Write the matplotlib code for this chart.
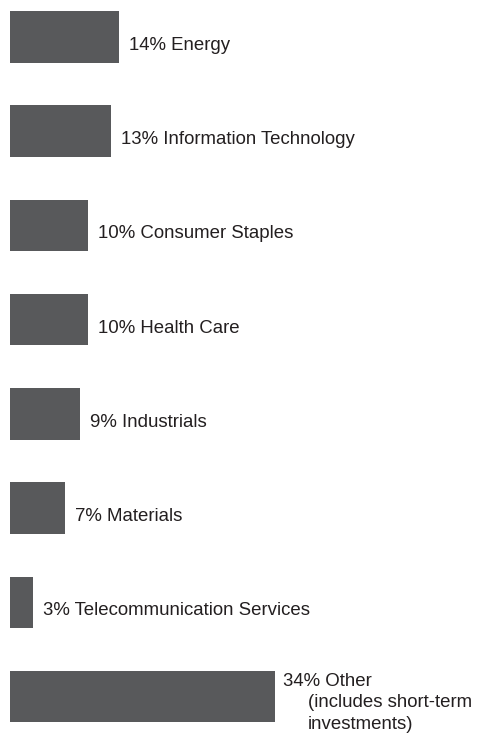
import matplotlib
matplotlib.use("Agg")
import matplotlib.pyplot as plt

categories = ["Energy", "Information Technology", "Consumer Staples", "Health Care",
              "Industrials", "Materials", "Telecommunication Services", "Other"]
values = [14, 13, 10, 10, 9, 7, 3, 34]
other_note = ["(includes short-term", "investments)"]

W, H = 492, 733
fig = plt.figure(figsize=(W / 100, H / 100), dpi=100)
ax = fig.add_axes([10 / W, 0, (W - 10) / W, 1])
ax.set_xlim(0, (W - 10) / 7.79)
spacing = 94.24
top = -37 / spacing
bottom = (H - 37) / spacing
ax.set_ylim(bottom, top)
ax.axis("off")

color = "#58595b"
font = dict(family=["Liberation Sans", "DejaVu Sans"], size=13.4, color="#231f20")
ys = list(range(len(categories)))
ax.barh(ys, values, height=51.5 / spacing, color=color, align="center")

for i, (cat, v) in enumerate(zip(categories, values)):
    if cat == "Other":
        ax.annotate(f"{v}% {cat}", xy=(v, i), xytext=(8, 10.7), textcoords="offset pixels",
                    va="baseline", ha="left", **font)
        for j, line in enumerate(other_note):
            ax.annotate(line, xy=(v, i), xytext=(33, 10.7 - 21.5 * (j + 1)),
                        textcoords="offset pixels", va="baseline", ha="left", **font)
    else:
        ax.annotate(f"{v}% {cat}", xy=(v, i), xytext=(10, -13), textcoords="offset pixels",
                    va="baseline", ha="left", **font)

fig.savefig("out.png", dpi=100, facecolor="white")
